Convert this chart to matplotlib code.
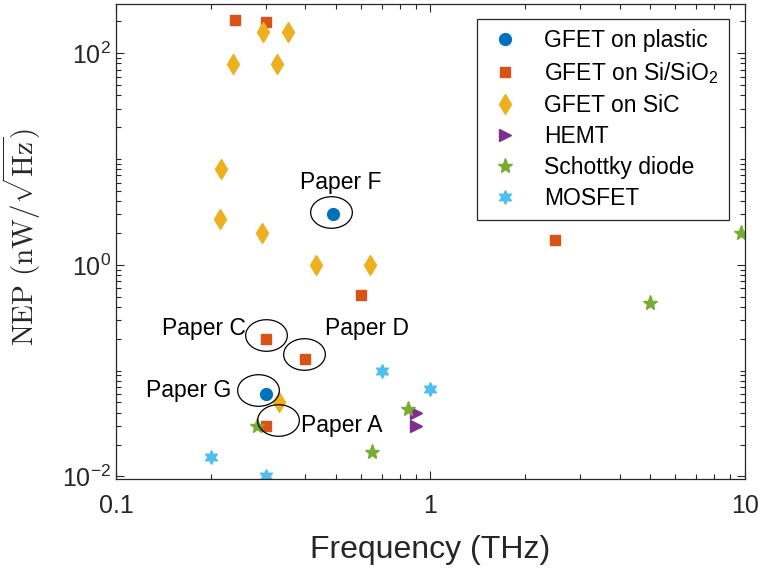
import numpy as np
import matplotlib
matplotlib.use('Agg')
import matplotlib.pyplot as plt
from matplotlib.path import Path

plt.rcParams['font.family'] = ['Liberation Sans', 'DejaVu Sans']
plt.rcParams['mathtext.fontset'] = 'custom'
plt.rcParams['mathtext.rm'] = 'Liberation Sans'
plt.rcParams['mathtext.it'] = 'Liberation Sans:italic'

# frequency (THz) / NEP (nW/sqrt(Hz)) per device type
plastic_f = [0.49, 0.30]
plastic_nep = [3.0, 0.060]

sio2_f = [0.24, 0.30, 0.30, 0.40, 0.60, 0.30, 2.5]
sio2_nep = [206, 199, 0.20, 0.13, 0.52, 0.030, 1.70]

sic_f = [0.294, 0.352, 0.236, 0.325, 0.216, 0.214, 0.291, 0.432, 0.645, 0.33]
sic_nep = [158, 158, 79, 79, 8.0, 2.7, 2.0, 1.0, 1.0, 0.051]

hemt_f = [0.9, 0.9]
hemt_nep = [0.040, 0.030]

schottky_f = [0.28, 0.85, 0.65, 9.7, 5.0]
schottky_nep = [0.030, 0.043, 0.0172, 2.0, 0.435]

mosfet_f = [0.7, 1.0, 0.2, 0.3]
mosfet_nep = [0.10, 0.067, 0.0152, 0.010]

# paper call-outs: label, ellipse centre, text position
papers = [
    ('Paper F', (0.483, 3.17), (0.519, 5.95)),
    ('Paper C', (0.30, 0.218), (0.19, 0.249)),
    ('Paper D', (0.396, 0.144), (0.627, 0.249)),
    ('Paper G', (0.283, 0.066), (0.170, 0.065)),
    ('Paper A', (0.328, 0.0343), (0.523, 0.0303)),
]

blue = '#0072BD'
orange = '#D95319'
yellow = '#EDB120'
purple = '#7E2F8E'
green = '#77AC30'
cyan = '#4DBEEE'
dark = '#262626'

fig = plt.figure(figsize=(7.63, 5.70), dpi=100)
ax = fig.add_axes([0.152, 0.160, 0.824, 0.833])

ax.plot(plastic_f, plastic_nep, 'o', color=blue, mec=blue, ms=8.5, ls='none', label='GFET on plastic')
ax.plot(sio2_f, sio2_nep, 's', color=orange, mec=orange, ms=7.5, ls='none', label='GFET on Si/SiO$_2$')
ax.plot(sic_f, sic_nep, 'd', color=yellow, mec=yellow, ms=10, ls='none', label='GFET on SiC')
ax.plot(hemt_f, hemt_nep, '>', color=purple, mec=purple, ms=9, ls='none', label='HEMT')
ax.plot(schottky_f, schottky_nep, '*', color=green, mec=green, ms=11, ls='none', label='Schottky diode')
ax.plot(mosfet_f, mosfet_nep, marker=(6, 1, 0), color=cyan, mec=cyan, ms=10, ls='none', label='MOSFET')

# ellipse marker for the call-outs
t = np.linspace(0, 2 * np.pi, 80)
ell = Path(np.column_stack([1.32 * np.cos(t), np.sin(t)]), closed=True)
for name, (ex, ey), (tx, ty) in papers:
    ax.plot([ex], [ey], marker=ell, ms=30, mfc='none', mec='black', mew=0.9, ls='none')
    ax.text(tx, ty, name, fontsize=16.5, ha='center', va='center', color='black')

ax.set_xscale('log')
ax.set_yscale('log')
ax.set_xlim(0.1, 10)
ax.set_ylim(0.0095, 292)

ax.set_xticks([0.1, 1, 10])
ax.set_xticklabels(['0.1', '1', '10'])
ax.set_yticks([1e-2, 1e0, 1e2])
ax.set_yticklabels(['$\\mathregular{10^{-2}}$', '$\\mathregular{10^{0}}$', '$\\mathregular{10^{2}}$'])
minor_x = [m * 10.0 ** d for d in (-1, 0) for m in range(2, 10)]
minor_y = [m * 10.0 ** d for d in range(-2, 3) for m in range(1, 10)
           if not (m == 1 and d in (-2, 0, 2))]
ax.set_xticks(minor_x, minor=True)
ax.set_yticks([v for v in minor_y if v < 292], minor=True)
ax.xaxis.set_minor_formatter(plt.NullFormatter())
ax.yaxis.set_minor_formatter(plt.NullFormatter())

ax.tick_params(which='both', direction='in', top=True, right=True, colors=dark, labelsize=18)
ax.tick_params(which='major', length=6, width=0.8)
ax.tick_params(which='minor', length=3.5, width=0.8)
ax.tick_params(axis='x', which='major', pad=11)
for s in ax.spines.values():
    s.set_color(dark)
    s.set_linewidth(0.9)

ax.set_xlabel('Frequency (THz)', fontsize=23, color=dark, labelpad=12)
ax.set_ylabel(r'$\mathrm{NEP\ (nW/\sqrt{Hz})}$', fontsize=21, color=dark,
              math_fontfamily='cm')
ax.yaxis.set_label_coords(-0.116, 0.51)

leg = ax.legend(loc='upper right', bbox_to_anchor=(0.975, 0.969), borderaxespad=0,
                fontsize=16.5, fancybox=False, framealpha=1, edgecolor=dark,
                handlelength=1.6, handletextpad=0.9, labelspacing=0.35, borderpad=0.45)
leg.get_frame().set_linewidth(0.9)

fig.savefig('out.png', dpi=100)
